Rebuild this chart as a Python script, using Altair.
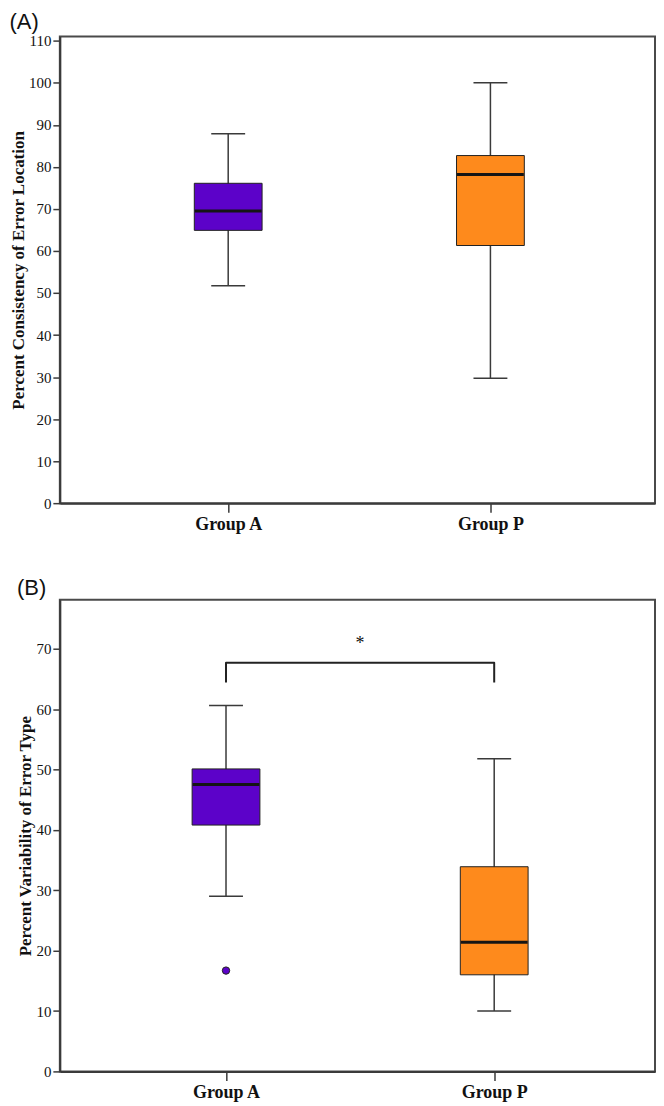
import altair as alt
import pandas as pd

# ---------------- data ----------------
groups = ["Group A", "Group P"]
group_idx = [0, 1]
box_colors = ["#5c02c9", "#fe8a1c"]

# Panel A: Percent Consistency of Error Location
a_low = [51.7, 29.7]
a_q1 = [64.9, 61.3]
a_med = [69.5, 78.2]
a_q3 = [76.1, 82.7]
a_high = [87.9, 100.0]
a_ticks = [0, 10, 20, 30, 40, 50, 60, 70, 80, 90, 100, 110]

# Panel B: Percent Variability of Error Type
b_low = [29.0, 10.0]
b_q1 = [40.8, 16.0]
b_med = [47.5, 21.4]
b_q3 = [50.1, 33.9]
b_high = [60.6, 51.8]
b_ticks = [0, 10, 20, 30, 40, 50, 60, 70]
b_out_idx = [0]
b_out_val = [16.7]

# significance bracket (group index / value)
br_x = [0, 0, 1, 1]
br_y = [64.4, 67.7, 67.7, 64.4]
br_order = [0, 1, 2, 3]
star_x = [0.5]
star_y = [70.8]
star_txt = ["*"]

SERIF = "Liberation Serif"
SANS = "Liberation Sans"
DARK = "#3a3a3a"


def box_panel(low, q1, med, q3, high, ydom, yticks, ytitle, w, h, label, xdom,
              outliers=None, bracket=False):
    df = pd.DataFrame({"idx": group_idx, "group": groups, "low": low, "q1": q1,
                       "med": med, "q3": q3, "high": high})
    label_expr = "['" + "','".join(groups) + "'][datum.value]"
    xsc = alt.Scale(domain=xdom, nice=False, zero=False)
    x = alt.X("idx:Q", scale=xsc,
              axis=alt.Axis(values=group_idx, labelExpr=label_expr, title=None,
                            grid=False, tickSize=9, tickWidth=1.5, tickColor=DARK,
                            domainColor=DARK, domainWidth=2, labelPadding=3,
                            labelFont=SERIF, labelFontSize=18, labelFontWeight="bold",
                            labelColor="#111"))
    ysc = alt.Scale(domain=ydom, nice=False, zero=True)
    yax = alt.Axis(values=yticks, title=ytitle, grid=False, tickSize=7, tickWidth=1.5,
                   tickColor=DARK, domainColor=DARK, domainWidth=2, labelPadding=2,
                   labelFont=SERIF, labelFontSize=15, labelColor="#111",
                   titleFont=SERIF, titleFontSize=17, titleFontWeight="bold",
                   titleColor="#111", titlePadding=1)
    base = alt.Chart(df)
    whisk = base.mark_rule(color=DARK, strokeWidth=1.5).encode(
        x=x, y=alt.Y("low:Q", scale=ysc, axis=yax), y2="high:Q")
    box = base.mark_bar(size=68, stroke="#222", strokeWidth=1, orient="vertical",
                        opacity=1).encode(
        x=x, y=alt.Y("q1:Q", scale=ysc, axis=yax), y2="q3:Q",
        color=alt.Color("group:N", scale=alt.Scale(domain=groups, range=box_colors),
                        legend=None))
    cap_lo = base.mark_tick(orient="horizontal", size=34, thickness=1.5, color=DARK,
                            opacity=1).encode(x=x, y=alt.Y("low:Q", scale=ysc, axis=yax))
    cap_hi = base.mark_tick(orient="horizontal", size=34, thickness=1.5, color=DARK,
                            opacity=1).encode(x=x, y=alt.Y("high:Q", scale=ysc, axis=yax))
    median = base.mark_tick(orient="horizontal", size=67, thickness=3, color="#151515",
                            opacity=1).encode(x=x, y=alt.Y("med:Q", scale=ysc, axis=yax))
    layers = [whisk, box, cap_lo, cap_hi, median]
    if outliers is not None:
        odf = pd.DataFrame({"idx": outliers[0], "val": outliers[1],
                            "group": [groups[i] for i in outliers[0]]})
        pts = alt.Chart(odf).mark_circle(size=55, opacity=1, stroke="#222",
                                         strokeWidth=1).encode(
            x=x, y=alt.Y("val:Q", scale=ysc, axis=yax),
            color=alt.Color("group:N", scale=alt.Scale(domain=groups, range=box_colors),
                            legend=None))
        layers.append(pts)
    if bracket:
        bdf = pd.DataFrame({"bx": br_x, "by": br_y, "o": br_order})
        br = alt.Chart(bdf).mark_line(color="#222", strokeWidth=2, strokeJoin="round").encode(
            x=alt.X("bx:Q", scale=xsc), y=alt.Y("by:Q", scale=ysc), order="o:Q")
        sdf = pd.DataFrame({"sx": star_x, "sy": star_y, "t": star_txt})
        st = alt.Chart(sdf).mark_text(font=SERIF, fontSize=18, color="#111",
                                      baseline="middle").encode(
            x=alt.X("sx:Q", scale=xsc), y=alt.Y("sy:Q", scale=ysc), text="t:N")
        layers += [br, st]
    return alt.layer(*layers).properties(
        width=w, height=h,
        title=alt.TitleParams(label, anchor="start", frame="bounds", font=SANS,
                              fontSize=22, fontWeight="normal", color="#111", offset=0))


panel_a = box_panel(a_low, a_q1, a_med, a_q3, a_high, [0, 111], a_ticks,
                    "Percent Consistency of Error Location", 597, 468, "(A)",
                    [-0.623, 1.6086])
panel_b = box_panel(b_low, b_q1, b_med, b_q3, b_high, [0, 78.1], b_ticks,
                    "Percent Variability of Error Type", 597, 473, "(B)",
                    [-0.601, 1.581],
                    outliers=(b_out_idx, b_out_val), bracket=True)

chart = alt.ConcatChart(concat=[panel_a, panel_b], columns=1, spacing=42
                        ).properties(padding=0, background="white").configure_view(
    stroke="#4a4a4a", strokeWidth=2)

chart.save("out.html", embed_options={"renderer": "svg", "actions": False})
